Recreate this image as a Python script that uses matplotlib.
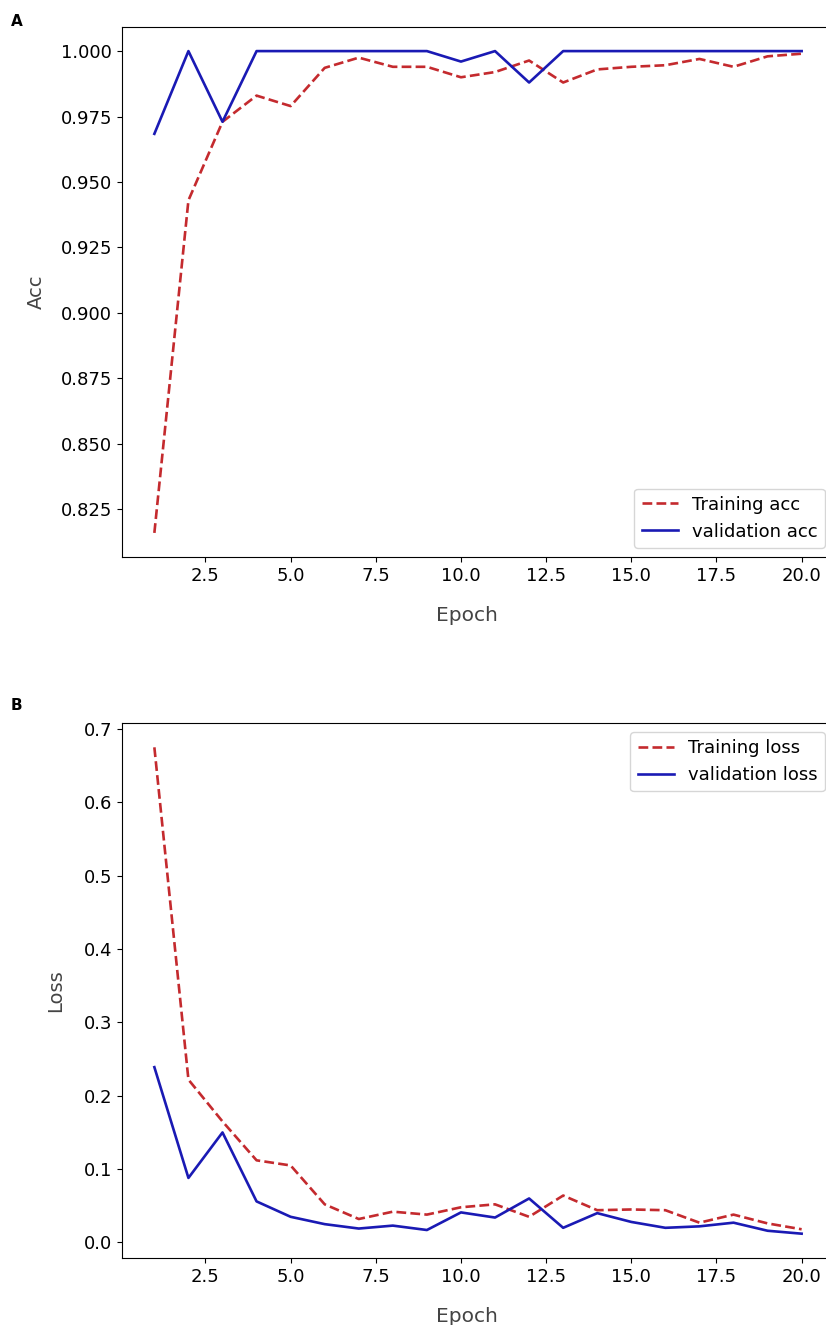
import matplotlib
matplotlib.use("Agg")
import matplotlib.pyplot as plt

epochs = list(range(1, 21))

train_acc = [0.816, 0.943, 0.973, 0.983, 0.979, 0.9936, 0.9975, 0.994, 0.994, 0.990,
             0.992, 0.9964, 0.988, 0.993, 0.994, 0.9946, 0.997, 0.994, 0.998, 0.999]
val_acc = [0.9684, 1.0, 0.973, 1.0, 1.0, 1.0, 1.0, 1.0, 1.0, 0.996,
           1.0, 0.988, 1.0, 1.0, 1.0, 1.0, 1.0, 1.0, 1.0, 1.0]

train_loss = [0.675, 0.222, 0.165, 0.112, 0.105, 0.052, 0.032, 0.042, 0.038, 0.048,
              0.052, 0.035, 0.064, 0.044, 0.045, 0.044, 0.027, 0.038, 0.026, 0.018]
val_loss = [0.239, 0.088, 0.150, 0.056, 0.035, 0.025, 0.019, 0.023, 0.017, 0.041,
            0.034, 0.060, 0.020, 0.040, 0.028, 0.020, 0.022, 0.027, 0.016, 0.012]

red = '#c42a2e'
blue = '#1a1ab4'
fs = 13
lw = 1.9

fig = plt.figure(figsize=(8.26, 13.25), dpi=100)

# panel A - accuracy
ax1 = fig.add_axes([122 / 826, 1 - 557 / 1325, 712 / 826, 530 / 1325])
ax1.plot(epochs, train_acc, color=red, linestyle='--', linewidth=lw, label='Training acc')
ax1.plot(epochs, val_acc, color=blue, linestyle='-', linewidth=lw, label='validation acc')
ax1.set_xlabel('Epoch', fontsize=14.5, color='#444444', labelpad=15)
ax1.xaxis.label.set_x(0.485)
ax1.set_ylabel('Acc', fontsize=14, color='#444444', labelpad=11)
ax1.tick_params(labelsize=fs)
ax1.legend(loc='lower right', fontsize=fs)

# panel B - loss
ax2 = fig.add_axes([122 / 826, 1 - 1258 / 1325, 712 / 826, 535 / 1325])
ax2.plot(epochs, train_loss, color=red, linestyle='--', linewidth=lw, label='Training loss')
ax2.plot(epochs, val_loss, color=blue, linestyle='-', linewidth=lw, label='validation loss')
ax2.set_xlabel('Epoch', fontsize=14.5, color='#444444', labelpad=15)
ax2.xaxis.label.set_x(0.485)
ax2.set_ylabel('Loss', fontsize=14, color='#444444', labelpad=13.5)
ax2.tick_params(labelsize=fs)
ax2.legend(loc='upper right', fontsize=fs)

fig.text(11 / 826, 1 - 21 / 1325, 'A', fontsize=11, fontweight='bold', va='center', ha='left')
fig.text(11 / 826, 1 - 706 / 1325, 'B', fontsize=11, fontweight='bold', va='center', ha='left')

fig.savefig('out.png', dpi=100)
